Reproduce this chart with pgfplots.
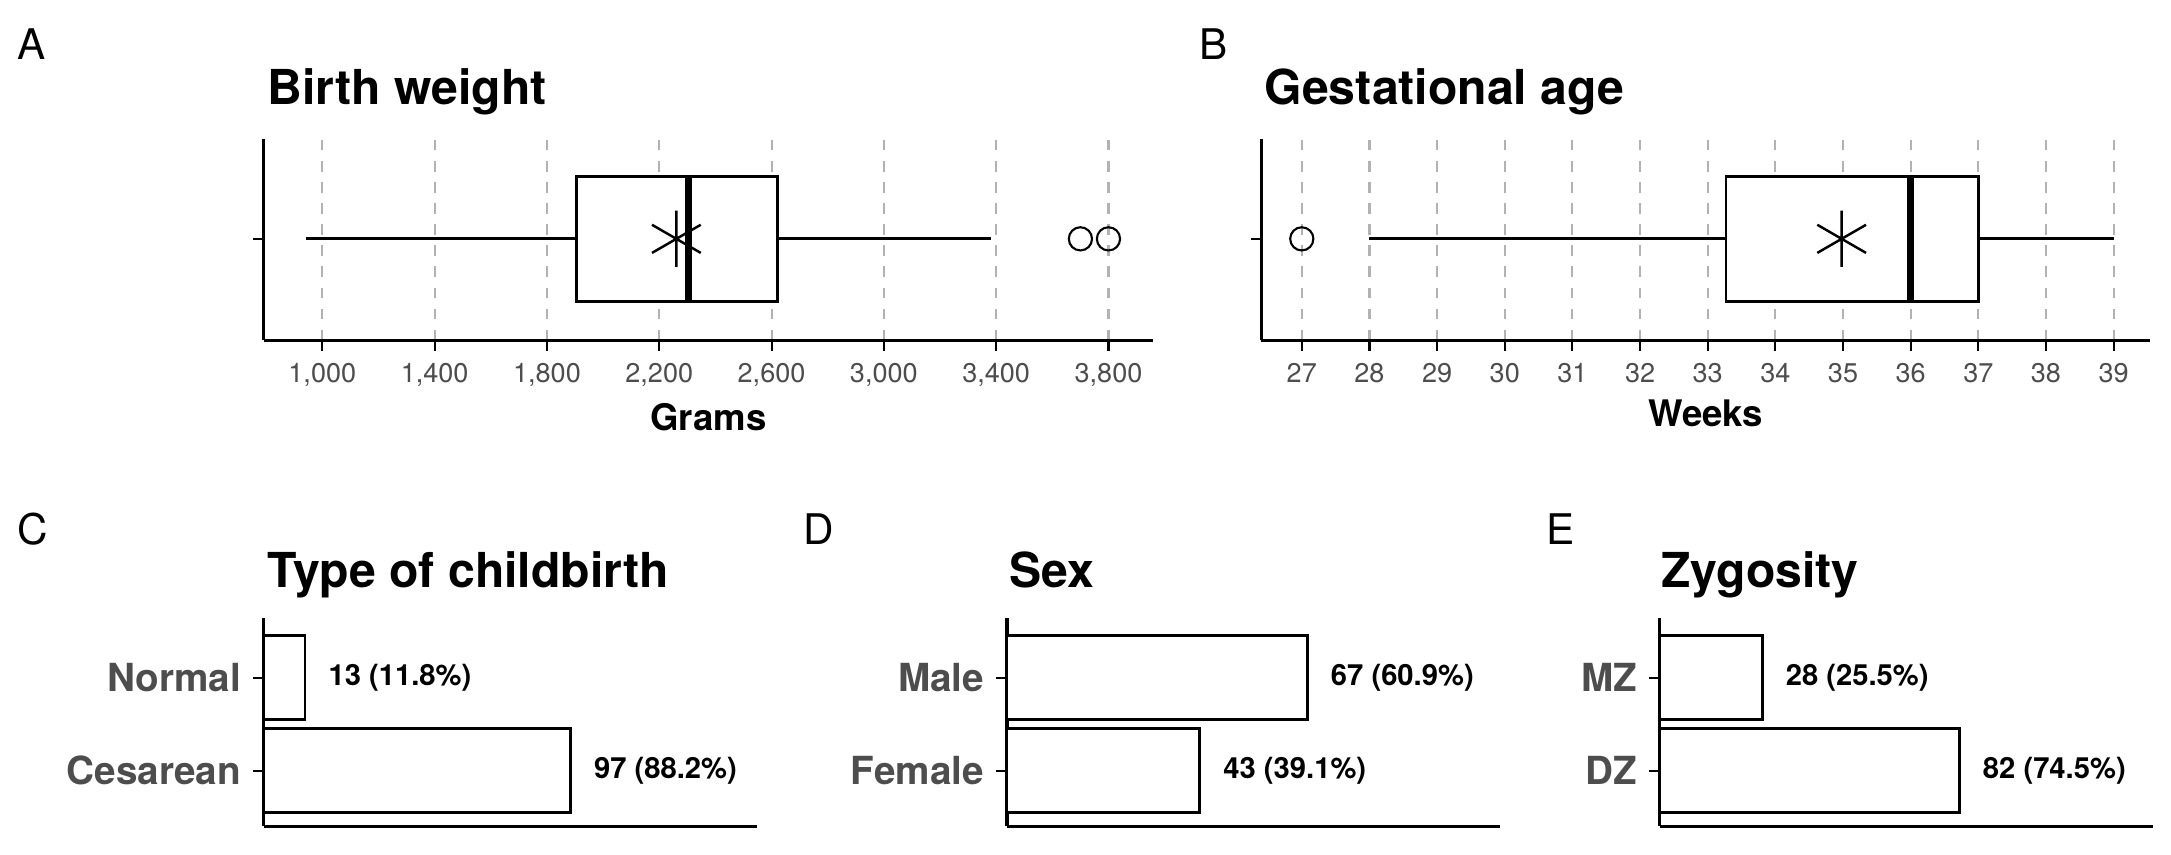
\documentclass[border=0pt]{standalone}
\usepackage{pgfplots}
\pgfplotsset{compat=1.18}
\usepgfplotslibrary{statistics}
\usepackage{fontspec}
\setmainfont{TeX Gyre Heros}
\definecolor{tg}{HTML}{4D4D4D}
\newcommand{\U}{0.395pt}
\pgfplotsset{
 common/.style={scale only axis, clip=false, axis x line*=bottom, axis y line*=left,
   axis line style={-,black,line width=0.9pt}, tick style={black,line width=0.6pt},
   tick align=outside, major tick length=3pt,
   /pgf/number format/assume math mode=true,
   ticklabel style={font=\fontsize{7.7}{9}\selectfont, text=tg},
   enlargelimits=false},
 boxax/.style={common, width=252.8pt, height=57.3pt, ymin=0.513, ymax=1.48,
   ytick={1}, yticklabels={}, xmajorgrids, grid style={dashed, gray!60, line width=0.6pt},
   xlabel style={font=\bfseries\fontsize{10.4}{12}\selectfont, yshift=2pt}},
 barax/.style={common, width=140.2pt, height=59.25pt, xmin=0, ymin=0.4, ymax=2.64,
   xtick=\empty, ytick={1,2},
   yticklabel style={font=\bfseries\fontsize{11}{13}\selectfont, text=tg},
   xbar, bar width=0.9, point meta=explicit symbolic,
   nodes near coords, nodes near coords style={anchor=west, font=\bfseries\fontsize{8.3}{10}\selectfont, text=black, xshift=3pt}},
}
\begin{document}
\begin{tikzpicture}
\path[use as bounding box] (0,0) rectangle (1563*\U,-615*\U);
% A
\begin{axis}[boxax, at={(190*\U,-245*\U)}, anchor=south west, xmin=792, xmax=3958,
  xtick={1000,1400,...,3800}, xlabel={Grams}]
\addplot[black, line width=0.8pt, fill=white, boxplot/draw direction=x,
  boxplot/whisker extend=0, boxplot/every median/.style={line width=2pt},
  boxplot prepared={lower whisker=941, lower quartile=1905, median=2305,
   upper quartile=2622, upper whisker=3383, draw position=1, box extend=0.6}] coordinates {};
\addplot[only marks, mark=asterisk, mark size=8pt, line width=0.7pt] coordinates {(2261,1)};
\addplot[only marks, mark=o, mark size=3.3pt, line width=0.6pt] coordinates {(3700,1)(3800,1)};
\end{axis}
% B
\begin{axis}[boxax, at={(908*\U,-245*\U)}, anchor=south west, xmin=26.4, xmax=39.54,
  xtick={27,...,39}, xlabel={Weeks}]
\addplot[black, line width=0.8pt, fill=white, boxplot/draw direction=x,
  boxplot/whisker extend=0, boxplot/every median/.style={line width=2pt},
  boxplot prepared={lower whisker=28, lower quartile=33.27, median=36,
   upper quartile=37, upper whisker=39, draw position=1, box extend=0.6}] coordinates {};
\addplot[only marks, mark=asterisk, mark size=8pt, line width=0.7pt] coordinates {(34.98,1)};
\addplot[only marks, mark=o, mark size=3.3pt, line width=0.6pt] coordinates {(27,1)};
\end{axis}
% C
\begin{axis}[barax, at={(190*\U,-595*\U)}, anchor=south west, xmax=156,
  yticklabels={Cesarean,Normal}]
\addplot[draw=black, fill=white, line width=0.8pt] coordinates {(97,1) [97 (88.2\%)] (13,2) [13 (11.8\%)]};
\end{axis}
% D
\begin{axis}[barax, at={(725*\U,-595*\U)}, anchor=south west, xmax=110,
  yticklabels={Female,Male}]
\addplot[draw=black, fill=white, line width=0.8pt] coordinates {(43,1) [43 (39.1\%)] (67,2) [67 (60.9\%)]};
\end{axis}
% E
\begin{axis}[barax, at={(1195*\U,-595*\U)}, anchor=south west, xmax=135,
  yticklabels={DZ,MZ}]
\addplot[draw=black, fill=white, line width=0.8pt] coordinates {(82,1) [82 (74.5\%)] (28,2) [28 (25.5\%)]};
\end{axis}
\tikzset{ttl/.style={anchor=base west, font=\bfseries\fontsize{13.7}{16}\selectfont, inner sep=0},
  lt/.style={anchor=base west, font=\fontsize{12}{14}\selectfont, inner sep=0}}
\node[ttl] at (192*\U,-75*\U) {Birth weight};
\node[ttl] at (910*\U,-75*\U) {Gestational age};
\node[ttl] at (192*\U,-423*\U) {Type of childbirth};
\node[ttl] at (726*\U,-423*\U) {Sex};
\node[ttl] at (1196*\U,-423*\U) {Zygosity};
\node[lt] at (12*\U,-43*\U) {A};
\node[lt] at (863*\U,-43*\U) {B};
\node[lt] at (12*\U,-392*\U) {C};
\node[lt] at (578*\U,-392*\U) {D};
\node[lt] at (1113*\U,-392*\U) {E};
\end{tikzpicture}
\end{document}
